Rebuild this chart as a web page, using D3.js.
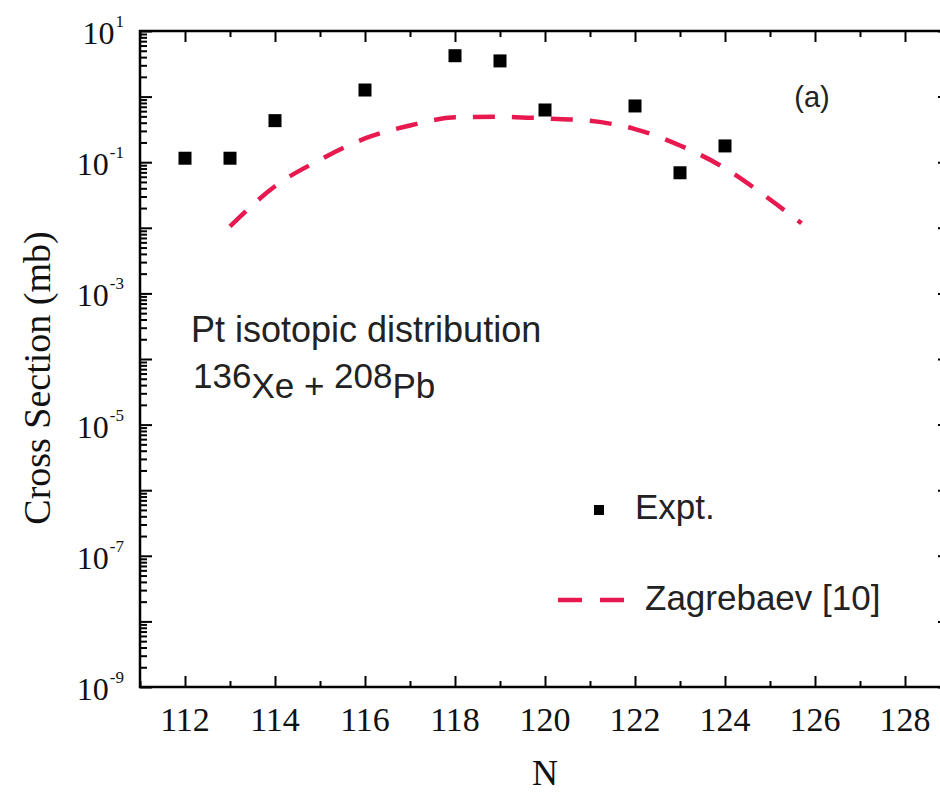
<!DOCTYPE html>
<html>
<head>
<meta charset="utf-8">
<script src="https://cdn.jsdelivr.net/npm/d3@7"></script>
<style>
  body { margin: 0; background: #fff; }
  .sans { font-family: "Liberation Sans", Arial, sans-serif; }
  .serif { font-family: "Liberation Serif", "Times New Roman", serif; }
</style>
</head>
<body>
<div id="chart"></div>
<script>
// Data
var expN = [112, 113, 114, 116, 118, 119, 120, 122, 123, 124];
var expCS = [0.115, 0.115, 0.43, 1.26, 4.2, 3.5, 0.625, 0.72, 0.069, 0.177];

var zagN = [113, 114, 115, 116, 117, 118, 119, 120, 121, 122, 123, 124, 125, 125.7];
var zagCS = [0.0105, 0.043, 0.109, 0.23, 0.363, 0.483, 0.494, 0.465, 0.427, 0.32, 0.18, 0.081, 0.027, 0.0117];

var xMajor = [112, 114, 116, 118, 120, 122, 124, 126, 128];
var xMinor = [111, 113, 115, 117, 119, 121, 123, 125, 127, 129];
var yExp = [1, 0, -1, -2, -3, -4, -5, -6, -7, -8, -9];
var yLabelExp = [1, -1, -3, -5, -7, -9];

var width = 940,
    height = 794;
var plotL = 140, plotR = 950, plotT = 31, plotB = 687;

var red = "#e8194f";

var svg = d3.select("#chart").append("svg")
    .attr("width", width)
    .attr("height", height);

// scales
var x = d3.scaleLinear().domain([111, 129]).range([plotL, plotR]);
var y = d3.scaleLog().domain([1e-9, 10]).range([plotB, plotT]);

var yMajor = yExp.map(function(e) { return Math.pow(10, e); });
var yMinor = [];
yExp.forEach(function(e) {
    if (e === 1) return;
    for (var k = 2; k <= 9; k++) yMinor.push(k * Math.pow(10, e));
});

// ticks (all pointing inward)
function tickAxis(gen, values, size, tx, ty) {
    var g = svg.append("g")
        .attr("transform", "translate(" + tx + "," + ty + ")")
        .call(gen.tickValues(values).tickSizeInner(size).tickSizeOuter(0).tickFormat(""));
    g.select(".domain").remove();
    g.selectAll("line").attr("stroke", "#000").attr("stroke-width", 2);
    return g;
}
tickAxis(d3.axisLeft(y), yMajor, -12, plotL, 0);
tickAxis(d3.axisLeft(y), yMinor, -7, plotL, 0);
tickAxis(d3.axisRight(y), yMajor, -12, plotR, 0);
tickAxis(d3.axisRight(y), yMinor, -7, plotR, 0);
tickAxis(d3.axisBottom(x), xMajor, -11, 0, plotB);
tickAxis(d3.axisBottom(x), xMinor, -6, 0, plotB);
tickAxis(d3.axisTop(x), xMajor, -11, 0, plotT);
tickAxis(d3.axisTop(x), xMinor, -6, 0, plotT);

// frame
svg.append("rect")
    .attr("x", plotL)
    .attr("y", plotT)
    .attr("width", plotR - plotL)
    .attr("height", plotB - plotT)
    .attr("fill", "none")
    .attr("stroke", "#000")
    .attr("stroke-width", 2.5);

// x tick labels
svg.append("g")
    .selectAll("text")
    .data(xMajor)
    .enter().append("text")
        .attr("class", "serif")
        .attr("x", function(d) { return x(d); })
        .attr("y", plotB + 44)
        .attr("text-anchor", "middle")
        .attr("font-size", 34)
        .attr("fill", "#111")
        .text(function(d) { return d; });

// y tick labels 10^n
var yl = svg.append("g")
    .selectAll("text")
    .data(yLabelExp)
    .enter().append("text")
        .attr("class", "serif")
        .attr("x", 124)
        .attr("y", function(d) { return y(Math.pow(10, d)) + 13; })
        .attr("text-anchor", "end")
        .attr("font-size", 32)
        .attr("fill", "#111");
yl.append("tspan").text("10");
yl.append("tspan")
    .attr("font-size", 17)
    .attr("dx", 1)
    .attr("dy", -17)
    .text(function(d) { return d < 0 ? "-" + (-d) : d; });

// axis titles
svg.append("text")
    .attr("class", "serif")
    .attr("x", (plotL + plotR) / 2)
    .attr("y", 785)
    .attr("text-anchor", "middle")
    .attr("font-size", 36)
    .attr("fill", "#111")
    .text("N");

svg.append("text")
    .attr("class", "serif")
    .attr("transform", "translate(50,378) rotate(-90)")
    .attr("text-anchor", "middle")
    .attr("font-size", 38)
    .attr("fill", "#111")
    .text("Cross Section (mb)");

// Zagrebaev curve
var line = d3.line()
    .x(function(d) { return x(d[0]); })
    .y(function(d) { return y(d[1]); })
    .curve(d3.curveMonotoneX);

svg.append("path")
    .datum(zagN.map(function(n, i) { return [n, zagCS[i]]; }))
    .attr("fill", "none")
    .attr("stroke", red)
    .attr("stroke-width", 4.5)
    .attr("stroke-dasharray", "22,17")
    .attr("d", line);

// experimental points
svg.append("g")
    .selectAll("rect")
    .data(expN)
    .enter().append("rect")
        .attr("x", function(d) { return x(d) - 6.5; })
        .attr("y", function(d, i) { return y(expCS[i]) - 6.5; })
        .attr("width", 13)
        .attr("height", 13)
        .attr("fill", "#000");

// annotations
svg.append("text")
    .attr("class", "sans")
    .attr("x", 812)
    .attr("y", 107)
    .attr("text-anchor", "middle")
    .attr("font-size", 29)
    .attr("fill", "#222")
    .text("(a)");

svg.append("text")
    .attr("class", "sans")
    .attr("x", 191)
    .attr("y", 342)
    .attr("font-size", 36)
    .attr("fill", "#222")
    .text("Pt isotopic distribution");

var rx = svg.append("text")
    .attr("class", "sans")
    .attr("x", 193)
    .attr("y", 388)
    .attr("font-size", 35)
    .attr("fill", "#222");
rx.append("tspan").text("136");
rx.append("tspan").attr("dy", 10).text("Xe + ");
rx.append("tspan").attr("dy", -10).text("208");
rx.append("tspan").attr("dy", 10).text("Pb");

// legend
svg.append("rect")
    .attr("x", 594)
    .attr("y", 505)
    .attr("width", 10)
    .attr("height", 10)
    .attr("fill", "#000");
svg.append("text")
    .attr("class", "sans")
    .attr("x", 635)
    .attr("y", 519)
    .attr("font-size", 35)
    .attr("fill", "#222")
    .text("Expt.");

svg.append("line")
    .attr("x1", 558)
    .attr("x2", 627)
    .attr("y1", 600)
    .attr("y2", 600)
    .attr("stroke", red)
    .attr("stroke-width", 4.5)
    .attr("stroke-dasharray", "24,18");
svg.append("text")
    .attr("class", "sans")
    .attr("x", 645)
    .attr("y", 610)
    .attr("font-size", 35)
    .attr("fill", "#222")
    .text("Zagrebaev [10]");
</script>
</body>
</html>
